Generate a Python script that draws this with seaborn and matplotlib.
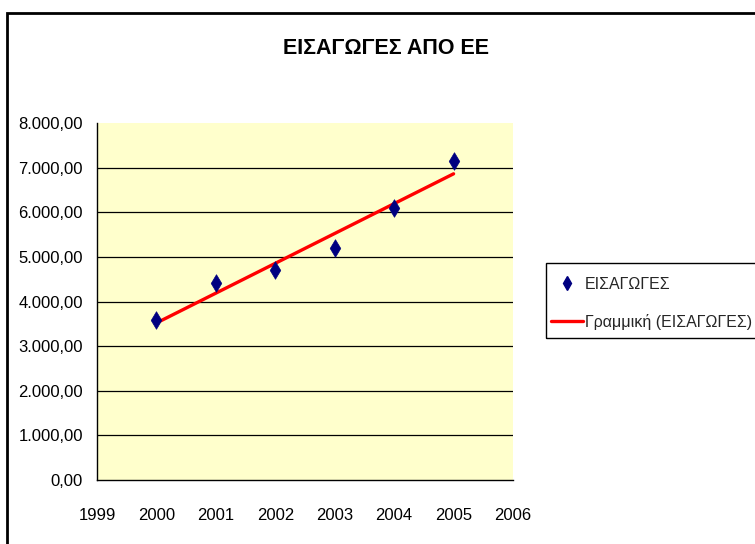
"""Eisagoges apo EE - scatter with linear trendline."""

import matplotlib

matplotlib.use("Agg")
import matplotlib.pyplot as plt
import matplotlib.ticker as mticker
from matplotlib.lines import Line2D
from matplotlib.patches import Rectangle
import pandas as pd
import seaborn as sns

etos = [2000, 2001, 2002, 2003, 2004, 2005]
eisagoges = [3580, 4410, 4710, 5190, 6100, 7150]
x_ticks = [1999, 2000, 2001, 2002, 2003, 2004, 2005, 2006]
y_ticks = [0, 1000, 2000, 3000, 4000, 5000, 6000, 7000, 8000]

titlos = "ΕΙΣΑΓΩΓΕΣ ΑΠΟ ΕΕ"
label_seira = "ΕΙΣΑΓΩΓΕΣ"
label_trend = "Γραμμική (ΕΙΣΑΓΩΓΕΣ)"

sns.set_theme(style="white")
plt.rcParams["font.family"] = ["Liberation Sans", "DejaVu Sans"]


def greek_fmt(v, _pos):
    s = f"{v:,.2f}"
    return s.replace(",", "X").replace(".", ",").replace("X", ".")


df = pd.DataFrame({"etos": etos, "eisagoges": eisagoges})

fig = plt.figure(figsize=(7.55, 5.44), dpi=100)
fig.patch.set_facecolor("white")

# chart area border (only top and left visible in the original)
fig.patches.append(
    Rectangle((7 / 755, -0.2), 1.2, 1.2 - 13 / 544,
              transform=fig.transFigure, fill=False,
              edgecolor="black", linewidth=2.0, zorder=0)
)

ax = fig.add_axes([97 / 755, 1 - 480 / 544, 416 / 755, 357 / 544])
ax.set_facecolor("#FFFFCC")

sns.regplot(data=df, x="etos", y="eisagoges", scatter=False, ci=None,
            truncate=True, color="#FF0000", line_kws={"linewidth": 2.4},
            ax=ax)
sns.scatterplot(data=df, x="etos", y="eisagoges", marker="d", s=80,
                color="#000080", edgecolor="#000080", linewidth=0.5,
                ax=ax, zorder=5)

ax.set_xlim(1999, 2006)
ax.set_ylim(0, 8000)
ax.set_xticks(x_ticks)
ax.set_yticks(y_ticks)
ax.yaxis.set_major_formatter(mticker.FuncFormatter(greek_fmt))
for v in y_ticks[1:-1]:
    ax.axhline(v, color="black", linewidth=0.9, zorder=1)

ax.set_xlabel("")
ax.set_ylabel("")
for side in ["top", "right"]:
    ax.spines[side].set_visible(False)
for side in ["left", "bottom"]:
    ax.spines[side].set_color("black")
    ax.spines[side].set_linewidth(1.0)
ax.tick_params(axis="both", direction="out", length=6, width=1,
               color="black", labelsize=12, labelcolor="black")
ax.tick_params(axis="x", pad=14)
ax.tick_params(axis="y", pad=4)

fig.text(386 / 755, 1 - 49 / 544, titlos, ha="center", va="center",
         fontsize=15.5, fontweight="bold", color="black")

# legend box drawn separately so the padding matches the original
fig.patches.append(
    Rectangle((545.5 / 755, 1 - 337.5 / 544), 0.5, 75 / 544,
              transform=fig.transFigure, fill=False,
              edgecolor="black", linewidth=1.0, zorder=2)
)
handles = [
    Line2D([], [], linestyle="none", marker="d", markersize=7,
           color="#000080", label=label_seira),
    Line2D([], [], color="#FF0000", linewidth=2.4, label=label_trend),
]
leg = fig.legend(handles=handles, loc="upper left",
                 bbox_to_anchor=(551 / 755, 1 - 277 / 544),
                 bbox_transform=fig.transFigure, frameon=False,
                 fontsize=11.5, borderpad=0, labelspacing=1.35,
                 handlelength=2.0, handletextpad=0.12, borderaxespad=0)

fig.savefig("out.png", dpi=100, facecolor="white")
plt.close(fig)
